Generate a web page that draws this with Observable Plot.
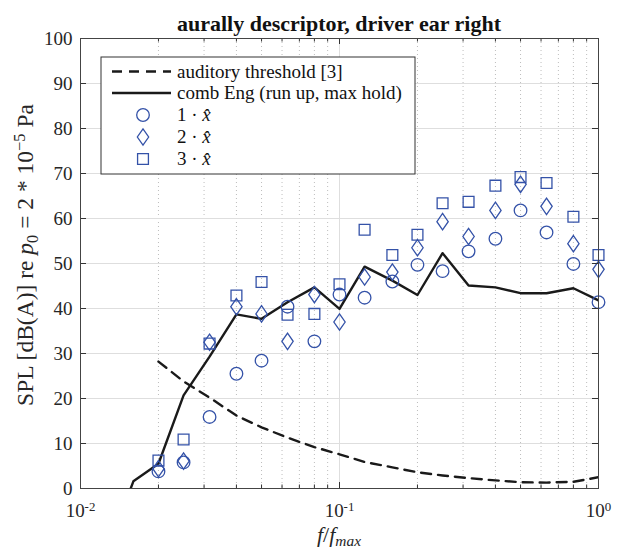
<!DOCTYPE html>
<html><head><meta charset="utf-8">
<script src="https://cdn.jsdelivr.net/npm/d3@7"></script>
<script src="https://cdn.jsdelivr.net/npm/@observablehq/plot@0.6"></script>
<style>
body{margin:0;background:#fff}
#chart svg, #chart svg text{font-family:"Liberation Serif","Times New Roman",serif !important;font-variant-numeric:normal !important}
</style>
</head><body><div id="chart"></div>
<script>
// third-octave bands (f/fmax)
const bands = [0.02,0.025,0.0315,0.04,0.05,0.063,0.08,0.1,0.125,0.16,0.2,0.25,0.315,0.4,0.5,0.63,0.8,1.0];
const combFreq = [0.0125,0.016,0.02,0.025,0.0315,0.04,0.05,0.063,0.08,0.1,0.125,0.16,0.2,0.25,0.315,0.4,0.5,0.63,0.8,1.0];
const combEng = [-15,1.6,5.5,20.7,29.3,38.7,37.7,41.4,44.7,39.9,49.3,46.2,43.0,52.3,45.1,44.7,43.4,43.4,44.5,41.8];
const threshold = [28.2,23.8,20.2,16.2,13.6,11.3,9.2,7.6,5.9,4.7,3.6,2.9,2.3,1.8,1.4,1.3,1.5,2.5];
const order1 = [3.8,5.8,15.9,25.5,28.4,40.4,32.7,43.1,42.4,46.0,49.7,48.3,52.7,55.5,61.8,56.9,49.9,41.4];
const order2 = [4.4,6.1,32.5,40.4,38.8,32.7,43.1,37.0,47.0,48.1,53.5,59.3,56.0,61.8,67.6,62.7,54.4,48.7];
const order3 = [6.2,10.9,32.2,42.9,45.9,38.6,38.8,45.4,57.5,51.9,56.4,63.4,63.7,67.3,69.2,67.9,60.4,51.9];
const yTicks = [0,10,20,30,40,50,60,70,80,90,100];
const xMajor = [0.01,0.1,1];
const xMinor = [0.02,0.03,0.04,0.05,0.06,0.07,0.08,0.09,0.2,0.3,0.4,0.5,0.6,0.7,0.8,0.9];
const legendItems = ["auditory threshold [3]","comb Eng (run up, max hold)","1","2","3"];

const W = 618, H = 552, mT = 38, mB = 64, mL = 80, mR = 20;
const fw = W - mL - mR, fh = H - mT - mB;
const blue = "#3452a8";
const serif = '"Liberation Serif","Times New Roman",serif';

const diamondSym = {draw(ctx, size){const r=Math.sqrt(size/Math.PI);const w=r*0.9,h=r*1.3;ctx.moveTo(0,-h);ctx.lineTo(w,0);ctx.lineTo(0,h);ctx.lineTo(-w,0);ctx.closePath();}};
const squareSym = {draw(ctx, size){const r=Math.sqrt(size/Math.PI);const s=r*0.86;ctx.rect(-s,-s,2*s,2*s);}};

const combData = combFreq.map((f,i)=>({f, v: combEng[i]}));
const thrData = bands.map((f,i)=>({f, v: threshold[i]}));
const d1 = bands.map((f,i)=>({f, v: order1[i]}));
const d2 = bands.map((f,i)=>({f, v: order2[i]}));
const d3_ = bands.map((f,i)=>({f, v: order3[i]}));

const plot = Plot.plot({
  width: W, height: H,
  marginTop: mT, marginBottom: mB, marginLeft: mL, marginRight: mR,
  x: {type: "log", domain: [0.01, 1]},
  y: {domain: [0, 100]},
  style: {fontFamily: serif, background: "#fff"},
  marks: [
    Plot.ruleX(xMinor, {x: d=>d, stroke: "#bdbdbd", strokeDasharray: "1,3", strokeWidth: 1}),
    Plot.ruleX(xMajor, {x: d=>d, stroke: "#dedede", strokeWidth: 1}),
    Plot.ruleY(yTicks, {y: d=>d, stroke: "#dedede", strokeWidth: 1}),
    Plot.line(thrData, {x: "f", y: "v", stroke: "#1a1a1a", strokeWidth: 2.4, strokeDasharray: "10,7", clip: true}),
    Plot.line(combData, {x: "f", y: "v", stroke: "#1a1a1a", strokeWidth: 2.4, clip: true}),
    Plot.dot(d1, {x: "f", y: "v", r: 6.3, symbol: "circle", stroke: blue, strokeWidth: 1.3, fill: "none"}),
    Plot.dot(d2, {x: "f", y: "v", r: 6.3, symbol: diamondSym, stroke: blue, strokeWidth: 1.3, fill: "none"}),
    Plot.dot(d3_, {x: "f", y: "v", r: 6.3, symbol: squareSym, stroke: blue, strokeWidth: 1.3, fill: "none"}),
    // inward ticks
    Plot.tickX(xMajor, {x: d=>d, insetTop: fh-6, stroke: "#333"}),
    Plot.tickX(xMajor, {x: d=>d, insetBottom: fh-6, stroke: "#333"}),
    Plot.tickX(xMinor, {x: d=>d, insetTop: fh-3.5, stroke: "#333"}),
    Plot.tickX(xMinor, {x: d=>d, insetBottom: fh-3.5, stroke: "#333"}),
    Plot.tickY(yTicks, {y: d=>d, insetRight: fw-6, stroke: "#333"}),
    Plot.tickY(yTicks, {y: d=>d, insetLeft: fw-6, stroke: "#333"}),
    Plot.frame({stroke: "#444", strokeWidth: 1}),
    Plot.axisY({ticks: yTicks, tickSize: 0, tickPadding: 8, fontSize: 19, fontFamily: serif, label: null, color: "#262626"}),
    Plot.axisX({ticks: xMajor, tickSize: 0, tickPadding: 15, fontSize: 19, fontFamily: serif, label: null, tickFormat: d => String(Math.round(Math.log10(d))), color: "#262626"})
  ]
});

const svg = d3.select(plot);
svg.selectAll('g[aria-label$="tick label"]').attr("font-variant", null).style("font-variant-numeric", "normal");
svg.selectAll('g[aria-label$="tick label"] text').style("font-family", serif);
// superscript exponents on x tick labels
svg.selectAll('g[aria-label="x-axis tick label"] text').each(function(){
  const t = d3.select(this); const e = t.text();
  t.text("10");
  t.append("tspan").attr("dy", "-0.5em").attr("font-size", "0.68em").text(e);
});

// title
svg.append("text").attr("x", mL + fw/2).attr("y", 31).attr("text-anchor", "middle")
  .attr("font-size", 22).attr("font-weight", "bold").attr("fill", "#111").text("aurally descriptor, driver ear right");

// x label f/f_max
const xl = svg.append("text").attr("x", mL + fw/2).attr("y", 542).attr("text-anchor", "middle")
  .attr("font-size", 22).attr("fill", "#262626");
xl.append("tspan").attr("font-style", "italic").text("f");
xl.append("tspan").text("/");
xl.append("tspan").attr("font-style", "italic").text("f");
xl.append("tspan").attr("font-style", "italic").attr("font-size", "0.7em").attr("dy", "0.25em").text("max");

// y label
const yl = svg.append("text").attr("transform", `translate(33,${mT + fh/2 - 8}) rotate(-90)`).attr("text-anchor", "middle")
  .attr("font-size", 23.5).attr("fill", "#262626");
yl.append("tspan").text("SPL [dB(A)] re ");
yl.append("tspan").attr("font-style", "italic").text("p");
yl.append("tspan").attr("font-size", "0.7em").attr("dy", "0.3em").text("0");
yl.append("tspan").attr("dy", "-0.21em").text(" = 2 * 10");
yl.append("tspan").attr("font-size", "0.7em").attr("dy", "-0.5em").text("\u22125");
yl.append("tspan").attr("dy", "0.35em").text(" Pa");

// legend
const lg = svg.append("g").attr("font-size", 19).attr("fill", "#111").attr("text-anchor", "start");
lg.append("rect").attr("x", 101).attr("y", 57).attr("width", 314).attr("height", 117)
  .attr("fill", "#fff").attr("stroke", "#333").attr("stroke-width", 1);
const rowY = [71.5, 93, 115, 137, 159];
lg.append("line").attr("x1", 112).attr("x2", 171).attr("y1", rowY[0]).attr("y2", rowY[0])
  .attr("stroke", "#1a1a1a").attr("stroke-width", 2.4).attr("stroke-dasharray", "10,7");
lg.append("line").attr("x1", 112).attr("x2", 171).attr("y1", rowY[1]).attr("y2", rowY[1])
  .attr("stroke", "#1a1a1a").attr("stroke-width", 2.4);
const sz = Math.PI * 6.3 * 6.3;
const syms = [d3.symbolCircle, diamondSym, squareSym];
for (let i = 0; i < 3; i++) {
  lg.append("path").attr("transform", `translate(143,${rowY[i+2]})`)
    .attr("d", d3.symbol(syms[i], sz)()).attr("fill", "none").attr("stroke", blue).attr("stroke-width", 1.3);
}
legendItems.forEach((s, i) => {
  const t = lg.append("text").attr("x", 177).attr("y", rowY[i]).attr("dy", "0.33em").attr("text-anchor", "start");
  if (i < 2) t.text(s);
  else { t.append("tspan").text(s + " \u00b7 "); t.append("tspan").attr("font-style", "italic").text("x\u0302"); }
});

document.getElementById("chart").appendChild(plot);
</script>
</body></html>
